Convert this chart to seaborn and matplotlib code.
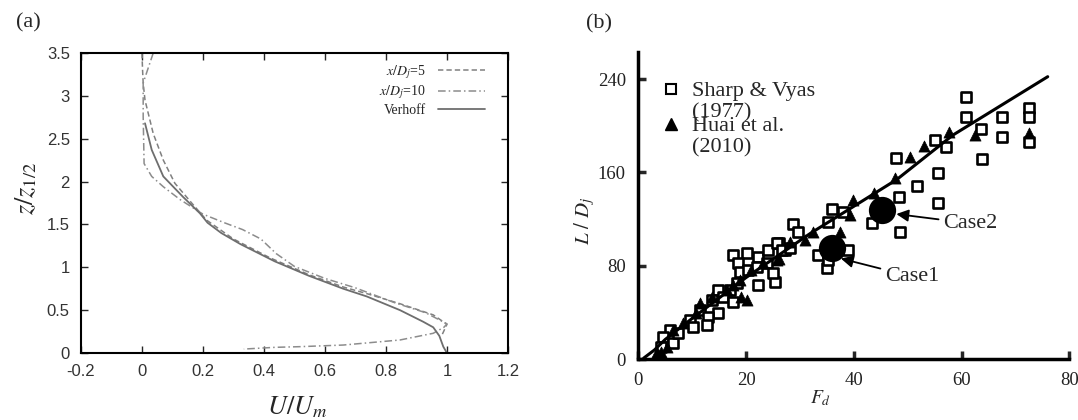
import matplotlib
matplotlib.use('Agg')
import matplotlib.pyplot as plt
from matplotlib.lines import Line2D
from matplotlib.ticker import FuncFormatter
import seaborn as sns

# (a) velocity profiles, z/z1/2 against U/Um
u_verh = [0.010, 0.032, 0.070, 0.135, 0.190, 0.215, 0.260, 0.323, 0.435, 0.548,
          0.660, 0.737, 0.846, 0.922, 0.955, 0.975, 0.988, 1.000]
z_verh = [2.68, 2.37, 2.06, 1.82, 1.63, 1.52, 1.40, 1.27, 1.07, 0.90,
          0.75, 0.66, 0.50, 0.365, 0.30, 0.20, 0.074, 0.0]

u_x5 = [0.000, 0.002, 0.004, 0.010, 0.037, 0.070, 0.108, 0.163, 0.212, 0.300,
        0.420, 0.550, 0.660, 0.740, 0.846, 0.955, 1.000, 0.985]
z_x5 = [3.50, 3.30, 3.15, 2.95, 2.56, 2.25, 1.98, 1.75, 1.55, 1.33,
        1.11, 0.91, 0.77, 0.69, 0.575, 0.445, 0.335, 0.22]

u_x10 = [0.037, 0.020, 0.004, 0.004, 0.007, 0.032, 0.070, 0.125, 0.200, 0.270,
         0.330, 0.390, 0.440, 0.500, 0.600, 0.700, 0.830, 0.930, 1.000, 0.990,
         0.955, 0.846, 0.660, 0.518, 0.435, 0.334]
z_x10 = [3.50, 3.32, 3.15, 2.76, 2.21, 2.06, 1.94, 1.79, 1.62, 1.52,
         1.44, 1.33, 1.16, 1.01, 0.87, 0.76, 0.585, 0.47, 0.34, 0.30,
         0.23, 0.152, 0.093, 0.074, 0.066, 0.046]

# (b) L/Dj against Fd
sv_fd = [60.9, 60.9, 67.6, 67.6, 72.5, 72.5, 72.5, 63.7, 63.8, 55.0, 57.2, 55.7,
         55.7, 51.7, 47.8, 48.4, 48.5, 43.4, 35.9, 38.0, 35.3, 39.0, 33.4, 35.0,
         35.3, 28.8, 29.7, 26.2, 27.2, 17.6, 20.1, 22.3, 24.1, 25.7, 26.6, 28.1,
         18.6, 18.9, 20.4, 22.0, 23.8, 22.3, 25.4, 25.0, 18.3, 17.0, 14.8, 15.8,
         17.6, 13.6, 11.4, 9.6, 10.2, 5.9, 4.6, 6.5, 14.8, 13.0, 12.7, 7.4, 4.2]
sv_ld = [224.8, 207.7, 207.2, 190.6, 214.9, 207.7, 186.3, 196.9, 171.2, 187.8, 181.5, 159.2,
         133.6, 148.4, 172.1, 138.7, 109.2, 117.0, 128.4, 126.4, 117.8, 93.6, 89.3, 77.9,
         85.0, 115.8, 109.3, 99.6, 94.0, 89.3, 90.7, 87.8, 93.6, 99.3, 93.6, 95.0,
         82.2, 75.0, 76.5, 79.3, 82.2, 63.6, 66.4, 73.6, 65.1, 59.3, 59.3, 53.6,
         49.3, 50.8, 42.2, 33.6, 27.9, 25.1, 19.3, 13.7, 39.4, 36.5, 29.4, 22.6, 10.8]

huai_fd = [72.5, 62.5, 57.7, 53.0, 50.4, 47.6, 43.7, 39.9, 39.3, 37.4, 32.5, 30.9,
           28.1, 25.7, 23.2, 21.0, 18.9, 17.6, 20.1, 19.0, 16.4, 13.6, 11.4, 10.8,
           8.3, 6.5, 5.3, 4.3, 3.5, 26.2]
huai_ld = [193.5, 192.0, 194.9, 182.6, 173.5, 155.0, 142.1, 136.4, 123.5, 109.2, 109.3, 102.1,
           100.7, 85.0, 82.2, 76.5, 67.9, 63.6, 50.8, 53.6, 59.3, 53.6, 47.9, 39.4,
           30.8, 25.1, 10.8, 6.5, 6.2, 86.3]

fit_fd = [1.0, 3.0, 5.0, 10.0, 20.0, 32.0, 48.0, 58.4, 76.0]
fit_ld = [1.0, 8.0, 17.0, 35.0, 70.0, 108.0, 154.0, 192.0, 242.0]

case_names = ['Case1', 'Case2']
case_fd = [35.9, 45.2]
case_ld = [95.0, 127.8]
case_tip_fd = [37.6, 47.9]
case_tip_ld = [86.3, 124.4]
case_txt_fd = [45.8, 56.6]
case_txt_ld = [70.8, 116.4]

sns.set_style('ticks')
plt.rcParams['font.family'] = ['Liberation Serif', 'DejaVu Serif']
plt.rcParams['mathtext.fontset'] = 'stix'
plt.rcParams['axes.unicode_minus'] = False

fig = plt.figure(figsize=(10.78, 4.2), dpi=100)
ax1 = fig.add_axes([0.0751, 0.1595, 0.3961, 0.7143])
ax2 = fig.add_axes([0.5921, 0.1445, 0.3998, 0.7324])

# ---- panel (a)
sns.lineplot(x=u_x5, y=z_x5, sort=False, estimator=None, ax=ax1, color='#808080',
             lw=1.1, linestyle=(0, (3.5, 2)), label=r'$x/D_j$=5')
sns.lineplot(x=u_x10, y=z_x10, sort=False, estimator=None, ax=ax1, color='#8c8c8c',
             lw=1.1, linestyle=(0, (5, 2, 1, 2)), label=r'$x/D_j$=10')
sns.lineplot(x=u_verh, y=z_verh, sort=False, estimator=None, ax=ax1, color='#6e6e6e',
             lw=1.3, label='Verhoff')

ax1.set_xlim(-0.2, 1.2)
ax1.set_ylim(0, 3.5)
ax1.set_xticks([-0.2, 0, 0.2, 0.4, 0.6, 0.8, 1.0, 1.2])
ax1.set_yticks([0, 0.5, 1, 1.5, 2, 2.5, 3, 3.5])
fmt = FuncFormatter(lambda v, p: '%g' % round(v, 2))
ax1.xaxis.set_major_formatter(fmt)
ax1.yaxis.set_major_formatter(fmt)
ax1.tick_params(direction='in', top=True, right=True, length=5, width=1,
                labelsize=12, pad=8, labelcolor='#333333')
for lab in ax1.get_xticklabels() + ax1.get_yticklabels():
    lab.set_fontfamily('Liberation Sans')
for sp in ax1.spines.values():
    sp.set_linewidth(1.5)
    sp.set_color('black')

ax1.set_xlabel(r'$U/U_m$', fontsize=19)
ax1.xaxis.set_label_coords(0.506, -0.18)
ax1.xaxis.label.set_va('center')
ax1.set_ylabel(r'$z/z_{1/2}$', fontsize=19)
ax1.yaxis.set_label_coords(-0.129, 0.55)
ax1.yaxis.label.set_va('center')

ax1.legend(loc='upper right', bbox_to_anchor=(0.96, 0.985), frameon=False,
           markerfirst=False, fontsize=10, handlelength=3.4, labelspacing=0.2,
           handletextpad=0.9, borderaxespad=0)

# ---- panel (b)
sns.scatterplot(x=sv_fd, y=sv_ld, marker='s', s=50, color='white', edgecolor='black',
                linewidth=1.9, ax=ax2, zorder=3, legend=False)
sns.scatterplot(x=huai_fd, y=huai_ld, marker='^', s=64, color='black', edgecolor='black',
                linewidth=0.5, ax=ax2, zorder=4, legend=False)
sns.lineplot(x=fit_fd, y=fit_ld, sort=False, estimator=None, ax=ax2, color='black',
             lw=2.2, zorder=5)
sns.scatterplot(x=case_fd, y=case_ld, marker='o', s=330, color='black', edgecolor='black',
                ax=ax2, zorder=6, legend=False)

for name, tx, ty, px, py in zip(case_names, case_txt_fd, case_txt_ld, case_tip_fd, case_tip_ld):
    ax2.annotate(name, xy=(px, py), xytext=(tx, ty), fontsize=16, ha='left', va='center',
                 arrowprops=dict(arrowstyle='-|>', color='black', lw=1.3,
                                 mutation_scale=18, shrinkA=1, shrinkB=0))

ax2.set_xlim(0, 80)
ax2.set_ylim(0, 263.4)
ax2.set_xticks([0, 20, 40, 60, 80])
ax2.set_yticks([0, 80, 160, 240])
sns.despine(ax=ax2)
for sp in ['left', 'bottom']:
    ax2.spines[sp].set_linewidth(2.5)
    ax2.spines[sp].set_color('black')
ax2.tick_params(direction='in', length=6, width=2.5, labelsize=13.5, pad=9,
                labelcolor='#222222')

ax2.set_xlabel(r'$F_d$', fontsize=14)
ax2.xaxis.set_label_coords(0.424, -0.126)
ax2.xaxis.label.set_va('center')
ax2.set_ylabel(r'$L\ /\ D_j$', fontsize=15)
ax2.yaxis.set_label_coords(-0.124, 0.45)
ax2.yaxis.label.set_va('center')

handles = [Line2D([], [], ls='none', marker='s', markersize=7, markerfacecolor='white',
                  markeredgecolor='black', markeredgewidth=1.5),
           Line2D([], [], ls='none', marker='^', markersize=8, color='black')]
leg = ax2.legend(handles, ['Sharp & Vyas', 'Huai et al.'], loc='upper left',
                 bbox_to_anchor=(0.055, 0.905), frameon=False, fontsize=16,
                 handlelength=0.8, handletextpad=0.55, labelspacing=0.65,
                 borderaxespad=0, borderpad=0)
# the year lines sit under each legend label; drawn after the legend
for t, yr in zip(leg.get_texts(), ['(1977)', '(2010)']):
    ax2.annotate(yr, xy=(0, 0), xycoords=t, xytext=(0, -11.5), textcoords='offset points',
                 ha='left', va='baseline', fontsize=16, zorder=10)

fig.text(28 / 1078, 1 - 23 / 420, '(a)', fontsize=16, ha='center', va='center')
fig.text(599 / 1078, 1 - 24 / 420, '(b)', fontsize=16, ha='center', va='center')

fig.savefig('out.png', dpi=100)
